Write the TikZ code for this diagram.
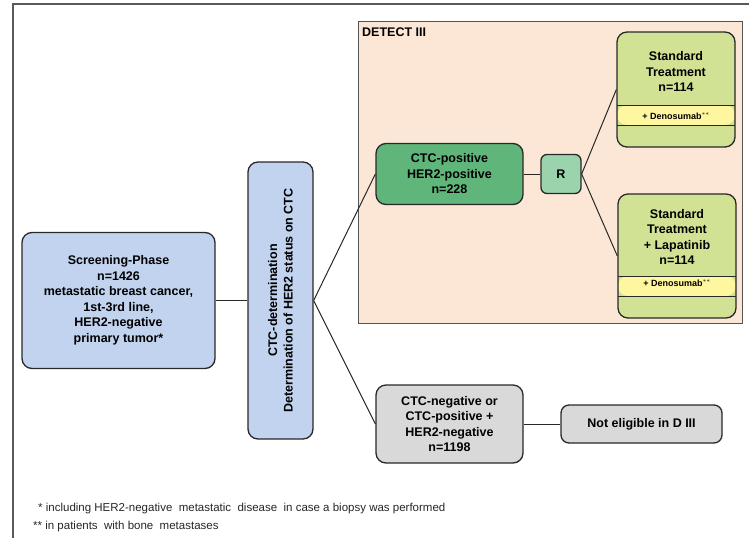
\documentclass[tikz,border=0pt]{standalone}
\usepackage{fontspec}
\setmainfont{Liberation Sans}
\usepackage{xcolor}
\definecolor{scrblue}{RGB}{193,211,238}
\definecolor{posgreen}{RGB}{96,182,122}
\definecolor{randgreen}{RGB}{155,212,172}
\definecolor{trtgreen}{RGB}{210,226,148}
\definecolor{bandyellow}{RGB}{255,247,160}
\definecolor{neggray}{RGB}{217,217,217}
\definecolor{detpeach}{RGB}{252,231,215}
\definecolor{edge}{RGB}{40,40,40}
\usepackage{tikz}
\tikzset{
 box/.style={draw=edge, line width=1.3pt, rounded corners=10pt, align=center,
  font=\fontsize{12.5}{15.5}\selectfont\bfseries, inner sep=2pt},
 trtbox/.style={box, fill=trtgreen, minimum width=118pt,
  path picture={
   \fill[bandyellow] ([yshift=22pt]path picture bounding box.south west) rectangle ([yshift=42pt]path picture bounding box.south east);
   \draw[edge, line width=0.8pt] ([yshift=22pt]path picture bounding box.south west) -- ([yshift=22pt]path picture bounding box.south east);
   \draw[edge, line width=0.8pt] ([yshift=42pt]path picture bounding box.south west) -- ([yshift=42pt]path picture bounding box.south east);
  }},
 bandtxt/.style={font=\fontsize{9}{10}\selectfont\bfseries, inner sep=1pt},
 link/.style={draw=edge, line width=1pt},
 note/.style={font=\fontsize{11.5}{13}\selectfont, text=black!85, inner sep=0pt, anchor=base west}
}

\begin{document}
\begin{tikzpicture}[x=1pt, y=-1pt]

\useasboundingbox (0,0) rectangle (749,538);

% frame
\draw[black!65, line width=1.5pt] (13,538)--(13,4)--(749,4);

% DETECT III area
\draw[fill=detpeach, draw=edge!80, line width=1pt] (358,21) rectangle (742,323);
\node[anchor=base west, font=\fontsize{12.5}{14}\selectfont\bfseries, inner sep=0pt] (dlabel) at (362,36) {DETECT III};

\node[box, fill=scrblue, minimum width=193pt, minimum height=136pt] (screen) at (118.5,300.5)
 {Screening-Phase\\n=1426\\metastatic breast cancer,\\1st-3rd line,\\HER2-negative\\primary tumor*};

\node[box, fill=scrblue, rotate=90, minimum width=277pt, minimum height=65pt] (ctcdet) at (280.5,300.5)
 {CTC-determination\\Determination of HER2 status on CTC};

\node[box, fill=posgreen, minimum width=147pt, minimum height=61pt] (pos) at (449.5,174)
 {CTC-positive\\HER2-positive\\n=228};

\node[box, fill=randgreen, rounded corners=6pt, minimum width=40pt, minimum height=39pt] (rand) at (561,174) {R};

\node[trtbox, minimum height=115pt] (std) at (676,89.5)
 {Standard\\Treatment\\n=114\\[20pt]\mbox{}};
\node[bandtxt] (dstd) at (676,116.5) {+ Denosumab$^{**}$};

\node[trtbox, minimum height=124pt] (lap) at (677,256)
 {Standard\\Treatment\\+ Lapatinib\\n=114\\[23pt]\mbox{}};
\node[bandtxt] (dlap) at (677,283) {+ Denosumab$^{**}$};

\node[box, fill=neggray, minimum width=147pt, minimum height=78pt] (neg) at (449.5,424)
 {CTC-negative or\\CTC-positive +\\HER2-negative\\n=1198};

\node[box, fill=neggray, rounded corners=8pt, minimum width=161pt, minimum height=38pt] (noel) at (641.5,424)
 {Not eligible in D III};

% connectors
\draw[link] (screen.east)--(ctcdet.north);
\draw[link] (ctcdet.south)--(pos.west);
\draw[link] (ctcdet.south)--(neg.west);
\draw[link] (pos.east)--(rand.west);
\draw[link] (rand.east)--(std.west);
\draw[link] (rand.east)--(lap.west);
\draw[link] (neg.east)--(noel.west);

% footnotes
\node[note] (fn1) at (38,511) {* including HER2-negative\ \ metastatic\ \ disease\ \ in case a biopsy was performed};
\node[note] (fn2) at (33,529) {** in patients\ \ with bone\ \ metastases};

\end{tikzpicture}
\end{document}
